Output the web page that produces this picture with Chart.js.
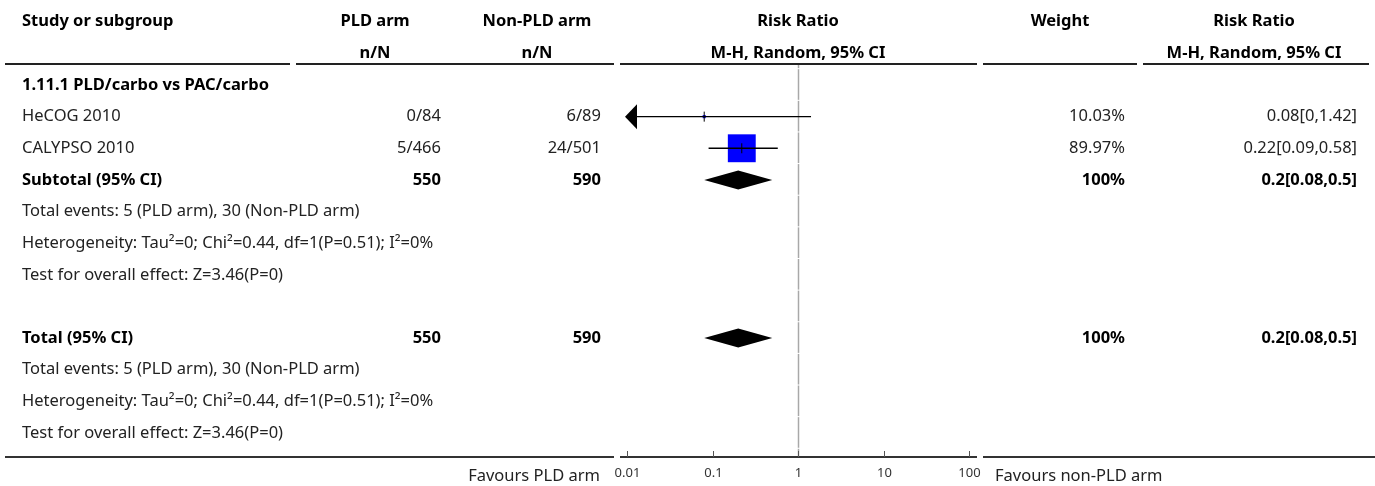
<!DOCTYPE html>
<html>
<head>
<meta charset="utf-8">
<title>Forest plot</title>
<script src="https://cdn.jsdelivr.net/npm/chart.js@4.4.0/dist/chart.umd.min.js"></script>
<style>
  html, body { margin: 0; padding: 0; background: #fff; }
  #wrap { width: 1375px; height: 486px; }
</style>
</head>
<body>
<div id="wrap"><canvas id="forest" width="1375" height="486"></canvas></div>
<script>
// individual studies
const studies = ['HeCOG 2010', 'CALYPSO 2010'];
const pldArm = ['0/84', '5/466'];
const nonPldArm = ['6/89', '24/501'];
const rr = [0.08, 0.22];
const rrLow = [0, 0.09];
const rrHigh = [1.42, 0.58];
const weights = [10.03, 89.97];
const weightText = ['10.03%', '89.97%'];
const rrText = ['0.08[0,1.42]', '0.22[0.09,0.58]'];

// pooled rows (subgroup, overall)
const pooledLabels = ['Subtotal (95% CI)', 'Total (95% CI)'];
const pooledPld = ['550', '550'];
const pooledNonPld = ['590', '590'];
const pooledRR = [0.2, 0.2];
const pooledLow = [0.08, 0.08];
const pooledHigh = [0.5, 0.5];
const pooledWeight = ['100%', '100%'];
const pooledText = ['0.2[0.08,0.5]', '0.2[0.08,0.5]'];

const statLines = [
  'Total events: 5 (PLD arm), 30 (Non-PLD arm)',
  'Heterogeneity: Tau\u00b2=0; Chi\u00b2=0.44, df=1(P=0.51); I\u00b2=0%',
  'Test for overall effect: Z=3.46(P=0)'
];

const subgroupTitle = '1.11.1 PLD/carbo vs PAC/carbo';
const xTicks = [0.01, 0.1, 1, 10, 100];
const xTickLabels = ['0.01', '0.1', '1', '10', '100'];

// row layout: 0 title, 1-2 studies, 3 subtotal, 4-6 stats, 8 total, 9-11 stats
const studyRows = [1, 2];
const pooledRows = [3, 8];
const statRows = [[4, 5, 6], [9, 10, 11]];

const FONT = '"Noto Sans", "Source Sans Pro", sans-serif';
const SIZE = 16.5;
const col = {
  study: 22,
  pldRight: 441, pldMid: 375,
  nonRight: 601, nonMid: 537,
  weightRight: 1125, weightMid: 1060,
  rrRight: 1357, rrMid: 1254
};

function text(ctx, s, x, y, align, bold, size, color) {
  ctx.font = (bold ? 'bold ' : '') + (size || SIZE) + 'px ' + FONT;
  ctx.fillStyle = color || (bold ? '#000' : '#222');
  ctx.textAlign = align;
  ctx.textBaseline = 'middle';
  ctx.fillText(s, x, y);
}

const forestPlugin = {
  id: 'forest',
  beforeDatasetsDraw(chart) {
    const { ctx, chartArea: a, scales: { x, y } } = chart;
    // line of no effect, broken at each row boundary
    const x1 = Math.round(x.getPixelForValue(1)) + 0.5;
    ctx.save();
    ctx.strokeStyle = '#a8a8a8';
    ctx.lineWidth = 1.5;
    let top = a.top;
    for (let r = -0.5; r <= 12.5; r++) {
      const b = Math.min(y.getPixelForValue(r), a.bottom);
      if (b <= top) continue;
      ctx.beginPath();
      ctx.moveTo(x1, top);
      ctx.lineTo(x1, b - 1);
      ctx.stroke();
      top = b;
      if (top >= a.bottom) break;
    }
    ctx.restore();
  },
  afterDatasetsDraw(chart) {
    const { ctx, chartArea: a, scales: { x, y } } = chart;
    ctx.save();

    // point ticks and clipped-interval arrows
    ctx.strokeStyle = '#000';
    ctx.fillStyle = '#000';
    studies.forEach((s, i) => {
      const px = x.getPixelForValue(rr[i]);
      const py = y.getPixelForValue(studyRows[i]);
      ctx.lineWidth = 1;
      ctx.beginPath();
      ctx.moveTo(px, py - 5);
      ctx.lineTo(px, py + 5);
      ctx.stroke();
      if (rrLow[i] < x.min) {
        ctx.beginPath();
        ctx.moveTo(a.left - 2, py);
        ctx.lineTo(a.left + 10, py - 12.5);
        ctx.lineTo(a.left + 10, py + 12.5);
        ctx.closePath();
        ctx.fill();
      }
      if (rrHigh[i] > x.max) {
        ctx.beginPath();
        ctx.moveTo(a.right + 2, py);
        ctx.lineTo(a.right - 10, py - 12.5);
        ctx.lineTo(a.right - 10, py + 12.5);
        ctx.closePath();
        ctx.fill();
      }
    });

    // pooled diamonds
    pooledRows.forEach((row, i) => {
      const py = y.getPixelForValue(row);
      const h = 9.5;
      ctx.beginPath();
      ctx.moveTo(x.getPixelForValue(pooledLow[i]), py);
      ctx.lineTo(x.getPixelForValue(pooledRR[i]), py - h);
      ctx.lineTo(x.getPixelForValue(pooledHigh[i]), py);
      ctx.lineTo(x.getPixelForValue(pooledRR[i]), py + h);
      ctx.closePath();
      ctx.fill();
    });

    // header
    const rowY = r => y.getPixelForValue(r);
    const mid = x.getPixelForValue(1);
    text(ctx, 'Study or subgroup', col.study, rowY(-2), 'left', true);
    text(ctx, 'PLD arm', col.pldMid, rowY(-2), 'center', true);
    text(ctx, 'Non-PLD arm', col.nonMid, rowY(-2), 'center', true);
    text(ctx, 'Risk Ratio', mid, rowY(-2), 'center', true);
    text(ctx, 'Weight', col.weightMid, rowY(-2), 'center', true);
    text(ctx, 'Risk Ratio', col.rrMid, rowY(-2), 'center', true);
    text(ctx, 'n/N', col.pldMid, rowY(-1), 'center', true);
    text(ctx, 'n/N', col.nonMid, rowY(-1), 'center', true);
    text(ctx, 'M-H, Random, 95% CI', mid, rowY(-1), 'center', true);
    text(ctx, 'M-H, Random, 95% CI', col.rrMid, rowY(-1), 'center', true);

    // header rule, split per column
    ctx.fillStyle = '#222';
    [[5, 290], [296, 614], [620, 977], [983, 1137], [1143, 1369]].forEach(([l, r]) => {
      ctx.fillRect(l, a.top - 1, r - l, 2);
    });

    text(ctx, subgroupTitle, col.study, rowY(0), 'left', true);

    studies.forEach((s, i) => {
      const py = rowY(studyRows[i]);
      text(ctx, s, col.study, py, 'left');
      text(ctx, pldArm[i], col.pldRight, py, 'right');
      text(ctx, nonPldArm[i], col.nonRight, py, 'right');
      text(ctx, weightText[i], col.weightRight, py, 'right');
      text(ctx, rrText[i], col.rrRight, py, 'right');
    });

    pooledRows.forEach((row, i) => {
      const py = rowY(row);
      text(ctx, pooledLabels[i], col.study, py, 'left', true);
      text(ctx, pooledPld[i], col.pldRight, py, 'right', true);
      text(ctx, pooledNonPld[i], col.nonRight, py, 'right', true);
      text(ctx, pooledWeight[i], col.weightRight, py, 'right', true);
      text(ctx, pooledText[i], col.rrRight, py, 'right', true);
      statRows[i].forEach((r, k) => text(ctx, statLines[k], col.study, rowY(r), 'left'));
    });

    // bottom axis
    ctx.fillStyle = '#333';
    [[5, 614], [620, 977], [983, 1375]].forEach(([l, r]) => {
      ctx.fillRect(l, a.bottom - 1, r - l, 2);
    });
    ctx.strokeStyle = '#555';
    ctx.lineWidth = 1;
    xTicks.forEach((t, i) => {
      const px = Math.round(x.getPixelForValue(t)) + 0.5;
      ctx.beginPath();
      ctx.moveTo(px, a.bottom - 6);
      ctx.lineTo(px, a.bottom);
      ctx.stroke();
      text(ctx, xTickLabels[i], px, a.bottom + 16, 'center', false, 13, '#333');
    });
    text(ctx, 'Favours PLD arm', 600, a.bottom + 19, 'right');
    text(ctx, 'Favours non-PLD arm', 995, a.bottom + 19, 'left');

    ctx.restore();
  }
};

new Chart(document.getElementById('forest'), {
  type: 'scatter',
  data: {
    datasets: [
      // confidence intervals, clipped to the axis range
      ...studies.map((s, i) => ({
        type: 'line',
        label: s + ' CI',
        data: [
          { x: Math.max(rrLow[i], xTicks[0]), y: studyRows[i] },
          { x: Math.min(rrHigh[i], xTicks[xTicks.length - 1]), y: studyRows[i] }
        ],
        borderColor: '#000',
        borderWidth: 1.3,
        pointRadius: 0,
        clip: false
      })),
      {
        label: 'Study estimates',
        data: studies.map((s, i) => ({ x: rr[i], y: studyRows[i] })),
        pointStyle: 'rect',
        // square side scales with study weight
        pointRadius: studies.map((s, i) => weights[i] * 0.31 / Math.SQRT2),
        backgroundColor: '#0000ff',
        borderWidth: 0
      }
    ]
  },
  options: {
    responsive: false,
    animation: false,
    layout: { padding: { left: 627, right: 406, top: 64, bottom: 29 } },
    plugins: { legend: { display: false }, tooltip: { enabled: false } },
    scales: {
      x: { type: 'logarithmic', min: 0.01, max: 100, display: false },
      y: { type: 'linear', min: -0.664, max: 11.76, reverse: true, display: false }
    }
  },
  plugins: [forestPlugin]
});
</script>
</body>
</html>
